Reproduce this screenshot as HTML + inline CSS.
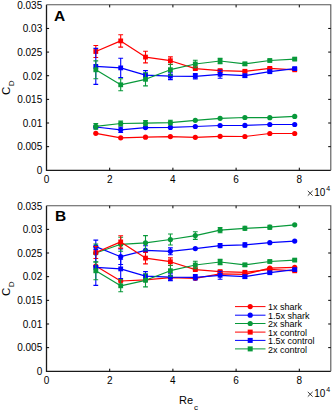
<!DOCTYPE html>
<html><head><meta charset="utf-8"><style>
html,body{margin:0;padding:0;background:#fff;}
body{width:335px;height:413px;position:relative;overflow:hidden;font-family:"Liberation Sans",sans-serif;color:#000;}
.t{position:absolute;white-space:nowrap;line-height:12px;font-size:10px;}
.yl{right:292.8px;text-align:right;}
.xl{width:20px;text-align:center;}
.ex{left:306px;font-size:11px;}
.sup{font-size:7px;position:relative;top:-5px;margin-left:1px;}
.pl{position:absolute;font-weight:bold;font-size:15.5px;line-height:16px;}
.leg{position:absolute;left:268px;font-size:9px;line-height:10px;}
.cd{position:absolute;font-size:11.5px;line-height:12px;transform:rotate(-90deg);transform-origin:0 0;}
.cd span{font-size:8px;position:relative;top:4px;margin-left:0.5px;}
</style></head><body>

<svg width="335" height="413" viewBox="0 0 335 413" style="position:absolute;left:0;top:0">
<path d="M46.5 4.8V170.3H330.8" fill="none" stroke="#1a1a1a" stroke-width="1.3"/>
<path d="M46.5 4.8H330.8V170.3" fill="none" stroke="#555" stroke-width="1.1"/>
<path d="M109.7 170.3v-2.6M109.7 4.8v2.6M172.9 170.3v-2.6M172.9 4.8v2.6M236.1 170.3v-2.6M236.1 4.8v2.6M299.3 170.3v-2.6M299.3 4.8v2.6M46.5 146.66h2.6M330.8 146.66h-2.6M46.5 123.01h2.6M330.8 123.01h-2.6M46.5 99.37h2.6M330.8 99.37h-2.6M46.5 75.73h2.6M330.8 75.73h-2.6M46.5 52.09h2.6M330.8 52.09h-2.6M46.5 28.44h2.6M330.8 28.44h-2.6" stroke="#000" stroke-width="1" fill="none"/>
<path d="M307.8 190.9L312.6 195.6M312.6 190.9L307.8 195.6" stroke="#222" stroke-width="0.9" fill="none"/>
<path d="M46.5 205.7V371.3H330.8" fill="none" stroke="#1a1a1a" stroke-width="1.3"/>
<path d="M46.5 205.7H330.8V371.3" fill="none" stroke="#555" stroke-width="1.1"/>
<path d="M109.7 371.3v-2.6M109.7 205.7v2.6M172.9 371.3v-2.6M172.9 205.7v2.6M236.1 371.3v-2.6M236.1 205.7v2.6M299.3 371.3v-2.6M299.3 205.7v2.6M46.5 347.64h2.6M330.8 347.64h-2.6M46.5 323.99h2.6M330.8 323.99h-2.6M46.5 300.33h2.6M330.8 300.33h-2.6M46.5 276.67h2.6M330.8 276.67h-2.6M46.5 253.01h2.6M330.8 253.01h-2.6M46.5 229.36h2.6M330.8 229.36h-2.6" stroke="#000" stroke-width="1" fill="none"/>
<path d="M307.8 391.9L312.6 396.6M312.6 391.9L307.8 396.6" stroke="#222" stroke-width="0.9" fill="none"/>
<path d="M95.8 133.3 L120.7 137.8 L145.5 137.2 L170.4 136.6 L195.3 137.3 L220.1 136.3 L244.9 136.5 L269.8 133.5 L294.7 133.5" fill="none" stroke="#ff0000" stroke-width="1.2" stroke-linejoin="round"/>
<circle cx="95.8" cy="133.3" r="2.6" fill="#ff0000"/>
<circle cx="120.7" cy="137.8" r="2.6" fill="#ff0000"/>
<circle cx="145.5" cy="137.2" r="2.6" fill="#ff0000"/>
<circle cx="170.4" cy="136.6" r="2.6" fill="#ff0000"/>
<circle cx="195.3" cy="137.3" r="2.6" fill="#ff0000"/>
<circle cx="220.1" cy="136.3" r="2.6" fill="#ff0000"/>
<circle cx="244.9" cy="136.5" r="2.6" fill="#ff0000"/>
<circle cx="269.8" cy="133.5" r="2.6" fill="#ff0000"/>
<circle cx="294.7" cy="133.5" r="2.6" fill="#ff0000"/>
<path d="M95.8 127 L120.7 129.8 L145.5 127.6 L170.4 127.4 L195.3 126.5 L220.1 125.5 L244.9 125.4 L269.8 124.5 L294.7 124.5" fill="none" stroke="#0000ff" stroke-width="1.2" stroke-linejoin="round"/>
<path d="M95.8 126V128M93.4 126H98.2M93.4 128H98.2" stroke="#0000ff" stroke-width="1.1" fill="none"/>
<circle cx="95.8" cy="127" r="2.6" fill="#0000ff"/>
<path d="M120.7 127.1V132.5M118.3 127.1H123.1M118.3 132.5H123.1" stroke="#0000ff" stroke-width="1.1" fill="none"/>
<circle cx="120.7" cy="129.8" r="2.6" fill="#0000ff"/>
<path d="M145.5 126.8V128.4M143.1 126.8H147.9M143.1 128.4H147.9" stroke="#0000ff" stroke-width="1.1" fill="none"/>
<circle cx="145.5" cy="127.6" r="2.6" fill="#0000ff"/>
<circle cx="170.4" cy="127.4" r="2.6" fill="#0000ff"/>
<circle cx="195.3" cy="126.5" r="2.6" fill="#0000ff"/>
<circle cx="220.1" cy="125.5" r="2.6" fill="#0000ff"/>
<circle cx="244.9" cy="125.4" r="2.6" fill="#0000ff"/>
<circle cx="269.8" cy="124.5" r="2.6" fill="#0000ff"/>
<circle cx="294.7" cy="124.5" r="2.6" fill="#0000ff"/>
<path d="M95.8 126.4 L120.7 123.5 L145.5 123.2 L170.4 122.6 L195.3 120.3 L220.1 118.3 L244.9 117.5 L269.8 117.7 L294.7 116.4" fill="none" stroke="#08993a" stroke-width="1.2" stroke-linejoin="round"/>
<path d="M95.8 123.6V129.2M93.4 123.6H98.2M93.4 129.2H98.2" stroke="#08993a" stroke-width="1.1" fill="none"/>
<circle cx="95.8" cy="126.4" r="2.6" fill="#08993a"/>
<path d="M120.7 121.1V125.9M118.3 121.1H123.1M118.3 125.9H123.1" stroke="#08993a" stroke-width="1.1" fill="none"/>
<circle cx="120.7" cy="123.5" r="2.6" fill="#08993a"/>
<path d="M145.5 120.6V125.8M143.1 120.6H147.9M143.1 125.8H147.9" stroke="#08993a" stroke-width="1.1" fill="none"/>
<circle cx="145.5" cy="123.2" r="2.6" fill="#08993a"/>
<path d="M170.4 120.3V124.9M168 120.3H172.8M168 124.9H172.8" stroke="#08993a" stroke-width="1.1" fill="none"/>
<circle cx="170.4" cy="122.6" r="2.6" fill="#08993a"/>
<circle cx="195.3" cy="120.3" r="2.6" fill="#08993a"/>
<circle cx="220.1" cy="118.3" r="2.6" fill="#08993a"/>
<circle cx="244.9" cy="117.5" r="2.6" fill="#08993a"/>
<circle cx="269.8" cy="117.7" r="2.6" fill="#08993a"/>
<circle cx="294.7" cy="116.4" r="2.6" fill="#08993a"/>
<path d="M95.8 51.5 L120.7 40.9 L145.5 57.1 L170.4 60.7 L195.3 68.6 L220.1 70.6 L244.9 71.3 L269.8 68.4 L294.7 69.8" fill="none" stroke="#ff0000" stroke-width="1.2" stroke-linejoin="round"/>
<path d="M95.8 45.5V57.5M93.4 45.5H98.2M93.4 57.5H98.2" stroke="#ff0000" stroke-width="1.1" fill="none"/>
<rect x="93.4" y="49.1" width="4.8" height="4.8" fill="#ff0000"/>
<path d="M120.7 34.7V47.1M118.3 34.7H123.1M118.3 47.1H123.1" stroke="#ff0000" stroke-width="1.1" fill="none"/>
<rect x="118.3" y="38.5" width="4.8" height="4.8" fill="#ff0000"/>
<path d="M145.5 51.3V62.9M143.1 51.3H147.9M143.1 62.9H147.9" stroke="#ff0000" stroke-width="1.1" fill="none"/>
<rect x="143.1" y="54.7" width="4.8" height="4.8" fill="#ff0000"/>
<path d="M170.4 56.9V64.5M168 56.9H172.8M168 64.5H172.8" stroke="#ff0000" stroke-width="1.1" fill="none"/>
<rect x="168" y="58.3" width="4.8" height="4.8" fill="#ff0000"/>
<path d="M195.3 67.4V69.8M192.9 67.4H197.7M192.9 69.8H197.7" stroke="#ff0000" stroke-width="1.1" fill="none"/>
<rect x="192.9" y="66.2" width="4.8" height="4.8" fill="#ff0000"/>
<path d="M220.1 69.6V71.6M217.7 69.6H222.5M217.7 71.6H222.5" stroke="#ff0000" stroke-width="1.1" fill="none"/>
<rect x="217.7" y="68.2" width="4.8" height="4.8" fill="#ff0000"/>
<path d="M244.9 70.3V72.3M242.5 70.3H247.3M242.5 72.3H247.3" stroke="#ff0000" stroke-width="1.1" fill="none"/>
<rect x="242.5" y="68.9" width="4.8" height="4.8" fill="#ff0000"/>
<path d="M269.8 67.4V69.4M267.4 67.4H272.2M267.4 69.4H272.2" stroke="#ff0000" stroke-width="1.1" fill="none"/>
<rect x="267.4" y="66" width="4.8" height="4.8" fill="#ff0000"/>
<path d="M294.7 68.8V70.8M292.3 68.8H297.1M292.3 70.8H297.1" stroke="#ff0000" stroke-width="1.1" fill="none"/>
<rect x="292.3" y="67.4" width="4.8" height="4.8" fill="#ff0000"/>
<path d="M95.8 66.4 L120.7 67.9 L145.5 75.2 L170.4 76.2 L195.3 76.3 L220.1 74.3 L244.9 75.7 L269.8 71.7 L294.7 68.6" fill="none" stroke="#0000ff" stroke-width="1.2" stroke-linejoin="round"/>
<path d="M95.8 48.4V84.4M93.4 48.4H98.2M93.4 84.4H98.2" stroke="#0000ff" stroke-width="1.1" fill="none"/>
<rect x="93.4" y="64" width="4.8" height="4.8" fill="#0000ff"/>
<path d="M120.7 58.3V77.5M118.3 58.3H123.1M118.3 77.5H123.1" stroke="#0000ff" stroke-width="1.1" fill="none"/>
<rect x="118.3" y="65.5" width="4.8" height="4.8" fill="#0000ff"/>
<path d="M145.5 70.6V79.8M143.1 70.6H147.9M143.1 79.8H147.9" stroke="#0000ff" stroke-width="1.1" fill="none"/>
<rect x="143.1" y="72.8" width="4.8" height="4.8" fill="#0000ff"/>
<path d="M170.4 72.8V79.6M168 72.8H172.8M168 79.6H172.8" stroke="#0000ff" stroke-width="1.1" fill="none"/>
<rect x="168" y="73.8" width="4.8" height="4.8" fill="#0000ff"/>
<path d="M195.3 73.6V79M192.9 73.6H197.7M192.9 79H197.7" stroke="#0000ff" stroke-width="1.1" fill="none"/>
<rect x="192.9" y="73.9" width="4.8" height="4.8" fill="#0000ff"/>
<path d="M220.1 70.3V78.3M217.7 70.3H222.5M217.7 78.3H222.5" stroke="#0000ff" stroke-width="1.1" fill="none"/>
<rect x="217.7" y="71.9" width="4.8" height="4.8" fill="#0000ff"/>
<path d="M244.9 74.3V77.1M242.5 74.3H247.3M242.5 77.1H247.3" stroke="#0000ff" stroke-width="1.1" fill="none"/>
<rect x="242.5" y="73.3" width="4.8" height="4.8" fill="#0000ff"/>
<path d="M269.8 70.7V72.7M267.4 70.7H272.2M267.4 72.7H272.2" stroke="#0000ff" stroke-width="1.1" fill="none"/>
<rect x="267.4" y="69.3" width="4.8" height="4.8" fill="#0000ff"/>
<path d="M294.7 67.6V69.6M292.3 67.6H297.1M292.3 69.6H297.1" stroke="#0000ff" stroke-width="1.1" fill="none"/>
<rect x="292.3" y="66.2" width="4.8" height="4.8" fill="#0000ff"/>
<path d="M95.8 69.8 L120.7 84.8 L145.5 79.3 L170.4 69.7 L195.3 64 L220.1 61 L244.9 63.9 L269.8 60.5 L294.7 59.1" fill="none" stroke="#08993a" stroke-width="1.2" stroke-linejoin="round"/>
<path d="M95.8 60.9V78.7M93.4 60.9H98.2M93.4 78.7H98.2" stroke="#08993a" stroke-width="1.1" fill="none"/>
<rect x="93.4" y="67.4" width="4.8" height="4.8" fill="#08993a"/>
<path d="M120.7 78.8V90.8M118.3 78.8H123.1M118.3 90.8H123.1" stroke="#08993a" stroke-width="1.1" fill="none"/>
<rect x="118.3" y="82.4" width="4.8" height="4.8" fill="#08993a"/>
<path d="M145.5 72.7V85.9M143.1 72.7H147.9M143.1 85.9H147.9" stroke="#08993a" stroke-width="1.1" fill="none"/>
<rect x="143.1" y="76.9" width="4.8" height="4.8" fill="#08993a"/>
<path d="M170.4 64.3V75.1M168 64.3H172.8M168 75.1H172.8" stroke="#08993a" stroke-width="1.1" fill="none"/>
<rect x="168" y="67.3" width="4.8" height="4.8" fill="#08993a"/>
<path d="M195.3 60.3V67.7M192.9 60.3H197.7M192.9 67.7H197.7" stroke="#08993a" stroke-width="1.1" fill="none"/>
<rect x="192.9" y="61.6" width="4.8" height="4.8" fill="#08993a"/>
<path d="M220.1 58.4V63.6M217.7 58.4H222.5M217.7 63.6H222.5" stroke="#08993a" stroke-width="1.1" fill="none"/>
<rect x="217.7" y="58.6" width="4.8" height="4.8" fill="#08993a"/>
<path d="M244.9 62.4V65.4M242.5 62.4H247.3M242.5 65.4H247.3" stroke="#08993a" stroke-width="1.1" fill="none"/>
<rect x="242.5" y="61.5" width="4.8" height="4.8" fill="#08993a"/>
<path d="M269.8 59.3V61.7M267.4 59.3H272.2M267.4 61.7H272.2" stroke="#08993a" stroke-width="1.1" fill="none"/>
<rect x="267.4" y="58.1" width="4.8" height="4.8" fill="#08993a"/>
<path d="M294.7 58.1V60.1M292.3 58.1H297.1M292.3 60.1H297.1" stroke="#08993a" stroke-width="1.1" fill="none"/>
<rect x="292.3" y="56.7" width="4.8" height="4.8" fill="#08993a"/>
<path d="M95.8 266 L120.7 281 L145.5 279.8 L170.4 277.6 L195.3 278.3 L220.1 273.9 L244.9 274.3 L269.8 268.2 L294.7 267.3" fill="none" stroke="#ff0000" stroke-width="1.2" stroke-linejoin="round"/>
<circle cx="95.8" cy="266" r="2.6" fill="#ff0000"/>
<circle cx="120.7" cy="281" r="2.6" fill="#ff0000"/>
<circle cx="145.5" cy="279.8" r="2.6" fill="#ff0000"/>
<circle cx="170.4" cy="277.6" r="2.6" fill="#ff0000"/>
<circle cx="195.3" cy="278.3" r="2.6" fill="#ff0000"/>
<circle cx="220.1" cy="273.9" r="2.6" fill="#ff0000"/>
<circle cx="244.9" cy="274.3" r="2.6" fill="#ff0000"/>
<circle cx="269.8" cy="268.2" r="2.6" fill="#ff0000"/>
<circle cx="294.7" cy="267.3" r="2.6" fill="#ff0000"/>
<path d="M95.8 246.6 L120.7 256.7 L145.5 250.3 L170.4 251.3 L195.3 248.6 L220.1 245.6 L244.9 244.9 L269.8 242.7 L294.7 241.1" fill="none" stroke="#0000ff" stroke-width="1.2" stroke-linejoin="round"/>
<path d="M95.8 240.1V253.1M93.4 240.1H98.2M93.4 253.1H98.2" stroke="#0000ff" stroke-width="1.1" fill="none"/>
<circle cx="95.8" cy="246.6" r="2.6" fill="#0000ff"/>
<path d="M120.7 248.9V264.5M118.3 248.9H123.1M118.3 264.5H123.1" stroke="#0000ff" stroke-width="1.1" fill="none"/>
<circle cx="120.7" cy="256.7" r="2.6" fill="#0000ff"/>
<path d="M145.5 245.7V252.3M143.1 245.7H147.9M143.1 252.3H147.9" stroke="#0000ff" stroke-width="1.1" fill="none"/>
<circle cx="145.5" cy="250.3" r="2.6" fill="#0000ff"/>
<path d="M170.4 247.9V254.7M168 247.9H172.8M168 254.7H172.8" stroke="#0000ff" stroke-width="1.1" fill="none"/>
<circle cx="170.4" cy="251.3" r="2.6" fill="#0000ff"/>
<circle cx="195.3" cy="248.6" r="2.6" fill="#0000ff"/>
<path d="M220.1 243.6V247.6M217.7 243.6H222.5M217.7 247.6H222.5" stroke="#0000ff" stroke-width="1.1" fill="none"/>
<circle cx="220.1" cy="245.6" r="2.6" fill="#0000ff"/>
<path d="M244.9 242.9V246.9M242.5 242.9H247.3M242.5 246.9H247.3" stroke="#0000ff" stroke-width="1.1" fill="none"/>
<circle cx="244.9" cy="244.9" r="2.6" fill="#0000ff"/>
<circle cx="269.8" cy="242.7" r="2.6" fill="#0000ff"/>
<circle cx="294.7" cy="241.1" r="2.6" fill="#0000ff"/>
<path d="M95.8 253 L120.7 244.3 L145.5 242.8 L170.4 239.5 L195.3 235.6 L220.1 230.2 L244.9 228.3 L269.8 227.2 L294.7 224.8" fill="none" stroke="#08993a" stroke-width="1.2" stroke-linejoin="round"/>
<path d="M95.8 244V262M93.4 244H98.2M93.4 262H98.2" stroke="#08993a" stroke-width="1.1" fill="none"/>
<circle cx="95.8" cy="253" r="2.6" fill="#08993a"/>
<path d="M120.7 237.3V251.3M118.3 237.3H123.1M118.3 251.3H123.1" stroke="#08993a" stroke-width="1.1" fill="none"/>
<circle cx="120.7" cy="244.3" r="2.6" fill="#08993a"/>
<path d="M145.5 235.6V250M143.1 235.6H147.9M143.1 250H147.9" stroke="#08993a" stroke-width="1.1" fill="none"/>
<circle cx="145.5" cy="242.8" r="2.6" fill="#08993a"/>
<path d="M170.4 234V245M168 234H172.8M168 245H172.8" stroke="#08993a" stroke-width="1.1" fill="none"/>
<circle cx="170.4" cy="239.5" r="2.6" fill="#08993a"/>
<path d="M195.3 231.8V239.4M192.9 231.8H197.7M192.9 239.4H197.7" stroke="#08993a" stroke-width="1.1" fill="none"/>
<circle cx="195.3" cy="235.6" r="2.6" fill="#08993a"/>
<path d="M220.1 227.6V232.8M217.7 227.6H222.5M217.7 232.8H222.5" stroke="#08993a" stroke-width="1.1" fill="none"/>
<circle cx="220.1" cy="230.2" r="2.6" fill="#08993a"/>
<path d="M244.9 226.3V230.3M242.5 226.3H247.3M242.5 230.3H247.3" stroke="#08993a" stroke-width="1.1" fill="none"/>
<circle cx="244.9" cy="228.3" r="2.6" fill="#08993a"/>
<path d="M269.8 225.3V229.1M267.4 225.3H272.2M267.4 229.1H272.2" stroke="#08993a" stroke-width="1.1" fill="none"/>
<circle cx="269.8" cy="227.2" r="2.6" fill="#08993a"/>
<circle cx="294.7" cy="224.8" r="2.6" fill="#08993a"/>
<path d="M95.8 252.5 L120.7 241.9 L145.5 258.1 L170.4 261.7 L195.3 269.6 L220.1 271.6 L244.9 272.3 L269.8 269.4 L294.7 270.8" fill="none" stroke="#ff0000" stroke-width="1.2" stroke-linejoin="round"/>
<path d="M95.8 246.5V258.5M93.4 246.5H98.2M93.4 258.5H98.2" stroke="#ff0000" stroke-width="1.1" fill="none"/>
<rect x="93.4" y="250.1" width="4.8" height="4.8" fill="#ff0000"/>
<path d="M120.7 235.7V248.1M118.3 235.7H123.1M118.3 248.1H123.1" stroke="#ff0000" stroke-width="1.1" fill="none"/>
<rect x="118.3" y="239.5" width="4.8" height="4.8" fill="#ff0000"/>
<path d="M145.5 252.3V263.9M143.1 252.3H147.9M143.1 263.9H147.9" stroke="#ff0000" stroke-width="1.1" fill="none"/>
<rect x="143.1" y="255.7" width="4.8" height="4.8" fill="#ff0000"/>
<path d="M170.4 257.9V265.5M168 257.9H172.8M168 265.5H172.8" stroke="#ff0000" stroke-width="1.1" fill="none"/>
<rect x="168" y="259.3" width="4.8" height="4.8" fill="#ff0000"/>
<path d="M195.3 268.4V270.8M192.9 268.4H197.7M192.9 270.8H197.7" stroke="#ff0000" stroke-width="1.1" fill="none"/>
<rect x="192.9" y="267.2" width="4.8" height="4.8" fill="#ff0000"/>
<path d="M220.1 270.6V272.6M217.7 270.6H222.5M217.7 272.6H222.5" stroke="#ff0000" stroke-width="1.1" fill="none"/>
<rect x="217.7" y="269.2" width="4.8" height="4.8" fill="#ff0000"/>
<path d="M244.9 271.3V273.3M242.5 271.3H247.3M242.5 273.3H247.3" stroke="#ff0000" stroke-width="1.1" fill="none"/>
<rect x="242.5" y="269.9" width="4.8" height="4.8" fill="#ff0000"/>
<path d="M269.8 268.4V270.4M267.4 268.4H272.2M267.4 270.4H272.2" stroke="#ff0000" stroke-width="1.1" fill="none"/>
<rect x="267.4" y="267" width="4.8" height="4.8" fill="#ff0000"/>
<path d="M294.7 269.8V271.8M292.3 269.8H297.1M292.3 271.8H297.1" stroke="#ff0000" stroke-width="1.1" fill="none"/>
<rect x="292.3" y="268.4" width="4.8" height="4.8" fill="#ff0000"/>
<path d="M95.8 267.4 L120.7 268.9 L145.5 276.2 L170.4 277.2 L195.3 277.3 L220.1 275.3 L244.9 276.7 L269.8 272.7 L294.7 269.6" fill="none" stroke="#0000ff" stroke-width="1.2" stroke-linejoin="round"/>
<path d="M95.8 249.4V285.4M93.4 249.4H98.2M93.4 285.4H98.2" stroke="#0000ff" stroke-width="1.1" fill="none"/>
<rect x="93.4" y="265" width="4.8" height="4.8" fill="#0000ff"/>
<path d="M120.7 259.3V278.5M118.3 259.3H123.1M118.3 278.5H123.1" stroke="#0000ff" stroke-width="1.1" fill="none"/>
<rect x="118.3" y="266.5" width="4.8" height="4.8" fill="#0000ff"/>
<path d="M145.5 271.6V280.8M143.1 271.6H147.9M143.1 280.8H147.9" stroke="#0000ff" stroke-width="1.1" fill="none"/>
<rect x="143.1" y="273.8" width="4.8" height="4.8" fill="#0000ff"/>
<path d="M170.4 273.8V280.6M168 273.8H172.8M168 280.6H172.8" stroke="#0000ff" stroke-width="1.1" fill="none"/>
<rect x="168" y="274.8" width="4.8" height="4.8" fill="#0000ff"/>
<path d="M195.3 274.6V280M192.9 274.6H197.7M192.9 280H197.7" stroke="#0000ff" stroke-width="1.1" fill="none"/>
<rect x="192.9" y="274.9" width="4.8" height="4.8" fill="#0000ff"/>
<path d="M220.1 271.3V279.3M217.7 271.3H222.5M217.7 279.3H222.5" stroke="#0000ff" stroke-width="1.1" fill="none"/>
<rect x="217.7" y="272.9" width="4.8" height="4.8" fill="#0000ff"/>
<path d="M244.9 275.3V278.1M242.5 275.3H247.3M242.5 278.1H247.3" stroke="#0000ff" stroke-width="1.1" fill="none"/>
<rect x="242.5" y="274.3" width="4.8" height="4.8" fill="#0000ff"/>
<path d="M269.8 271.7V273.7M267.4 271.7H272.2M267.4 273.7H272.2" stroke="#0000ff" stroke-width="1.1" fill="none"/>
<rect x="267.4" y="270.3" width="4.8" height="4.8" fill="#0000ff"/>
<path d="M294.7 268.6V270.6M292.3 268.6H297.1M292.3 270.6H297.1" stroke="#0000ff" stroke-width="1.1" fill="none"/>
<rect x="292.3" y="267.2" width="4.8" height="4.8" fill="#0000ff"/>
<path d="M95.8 270.8 L120.7 285.8 L145.5 280.3 L170.4 270.7 L195.3 265 L220.1 262 L244.9 264.9 L269.8 261.5 L294.7 260.1" fill="none" stroke="#08993a" stroke-width="1.2" stroke-linejoin="round"/>
<path d="M95.8 261.9V279.7M93.4 261.9H98.2M93.4 279.7H98.2" stroke="#08993a" stroke-width="1.1" fill="none"/>
<rect x="93.4" y="268.4" width="4.8" height="4.8" fill="#08993a"/>
<path d="M120.7 279.8V291.8M118.3 279.8H123.1M118.3 291.8H123.1" stroke="#08993a" stroke-width="1.1" fill="none"/>
<rect x="118.3" y="283.4" width="4.8" height="4.8" fill="#08993a"/>
<path d="M145.5 273.7V286.9M143.1 273.7H147.9M143.1 286.9H147.9" stroke="#08993a" stroke-width="1.1" fill="none"/>
<rect x="143.1" y="277.9" width="4.8" height="4.8" fill="#08993a"/>
<path d="M170.4 265.3V276.1M168 265.3H172.8M168 276.1H172.8" stroke="#08993a" stroke-width="1.1" fill="none"/>
<rect x="168" y="268.3" width="4.8" height="4.8" fill="#08993a"/>
<path d="M195.3 261.3V268.7M192.9 261.3H197.7M192.9 268.7H197.7" stroke="#08993a" stroke-width="1.1" fill="none"/>
<rect x="192.9" y="262.6" width="4.8" height="4.8" fill="#08993a"/>
<path d="M220.1 259.4V264.6M217.7 259.4H222.5M217.7 264.6H222.5" stroke="#08993a" stroke-width="1.1" fill="none"/>
<rect x="217.7" y="259.6" width="4.8" height="4.8" fill="#08993a"/>
<path d="M244.9 263.4V266.4M242.5 263.4H247.3M242.5 266.4H247.3" stroke="#08993a" stroke-width="1.1" fill="none"/>
<rect x="242.5" y="262.5" width="4.8" height="4.8" fill="#08993a"/>
<path d="M269.8 260.3V262.7M267.4 260.3H272.2M267.4 262.7H272.2" stroke="#08993a" stroke-width="1.1" fill="none"/>
<rect x="267.4" y="259.1" width="4.8" height="4.8" fill="#08993a"/>
<path d="M294.7 259.1V261.1M292.3 259.1H297.1M292.3 261.1H297.1" stroke="#08993a" stroke-width="1.1" fill="none"/>
<rect x="292.3" y="257.7" width="4.8" height="4.8" fill="#08993a"/>
<path d="M235 306.6H265.5" stroke="#ff0000" stroke-width="1"/>
<circle cx="250.2" cy="306.6" r="2.6" fill="#ff0000"/>
<path d="M235 315.2H265.5" stroke="#0000ff" stroke-width="1"/>
<circle cx="250.2" cy="315.2" r="2.6" fill="#0000ff"/>
<path d="M235 323.5H265.5" stroke="#08993a" stroke-width="1"/>
<circle cx="250.2" cy="323.5" r="2.6" fill="#08993a"/>
<path d="M235 332.1H265.5" stroke="#ff0000" stroke-width="1"/>
<rect x="247.7" y="329.6" width="5" height="5" fill="#ff0000"/>
<path d="M235 340.4H265.5" stroke="#0000ff" stroke-width="1"/>
<rect x="247.7" y="337.9" width="5" height="5" fill="#0000ff"/>
<path d="M235 348.9H265.5" stroke="#08993a" stroke-width="1"/>
<rect x="247.7" y="346.4" width="5" height="5" fill="#08993a"/>
</svg>
<div class="t yl" style="top:165.1px">0</div>
<div class="t yl" style="top:141.46px">0.005</div>
<div class="t yl" style="top:117.81px">0.01</div>
<div class="t yl" style="top:94.17px">0.015</div>
<div class="t yl" style="top:70.53px">0.02</div>
<div class="t yl" style="top:46.89px">0.025</div>
<div class="t yl" style="top:23.24px">0.03</div>
<div class="t yl" style="top:-0.4px">0.035</div>
<div class="t xl" style="left:36.5px;top:174.3px">0</div>
<div class="t xl" style="left:99.7px;top:174.3px">2</div>
<div class="t xl" style="left:162.9px;top:174.3px">4</div>
<div class="t xl" style="left:226.1px;top:174.3px">6</div>
<div class="t xl" style="left:289.3px;top:174.3px">8</div>
<div class="t" style="left:314.2px;top:186.9px;font-size:10px;transform:scaleY(1.08);transform-origin:0 100%">10</div>
<div class="t" style="left:326.3px;top:182.8px;font-size:7px">4</div>
<div class="t yl" style="top:366.1px">0</div>
<div class="t yl" style="top:342.44px">0.005</div>
<div class="t yl" style="top:318.79px">0.01</div>
<div class="t yl" style="top:295.13px">0.015</div>
<div class="t yl" style="top:271.47px">0.02</div>
<div class="t yl" style="top:247.81px">0.025</div>
<div class="t yl" style="top:224.16px">0.03</div>
<div class="t yl" style="top:200.5px">0.035</div>
<div class="t xl" style="left:36.5px;top:375.3px">0</div>
<div class="t xl" style="left:99.7px;top:375.3px">2</div>
<div class="t xl" style="left:162.9px;top:375.3px">4</div>
<div class="t xl" style="left:226.1px;top:375.3px">6</div>
<div class="t xl" style="left:289.3px;top:375.3px">8</div>
<div class="t" style="left:314.2px;top:387.9px;font-size:10px;transform:scaleY(1.08);transform-origin:0 100%">10</div>
<div class="t" style="left:326.3px;top:383.8px;font-size:7px">4</div>
<div class="pl" style="left:54px;top:8px">A</div>
<div class="pl" style="left:55px;top:208px">B</div>
<div class="leg" style="top:302.4px">1x shark</div>
<div class="leg" style="top:311px">1.5x shark</div>
<div class="leg" style="top:319.3px">2x shark</div>
<div class="leg" style="top:327.9px">1x control</div>
<div class="leg" style="top:336.2px">1.5x control</div>
<div class="leg" style="top:344.7px">2x control</div>
<div class="cd" style="left:-0.5px;top:95px">C<span>D</span></div>
<div class="cd" style="left:-0.5px;top:295.5px">C<span>D</span></div>
<div class="t" style="left:179px;top:394px;font-size:11px">Re<span style="font-size:8px;position:relative;top:5.8px;margin-left:1px">c</span></div>
</body></html>
